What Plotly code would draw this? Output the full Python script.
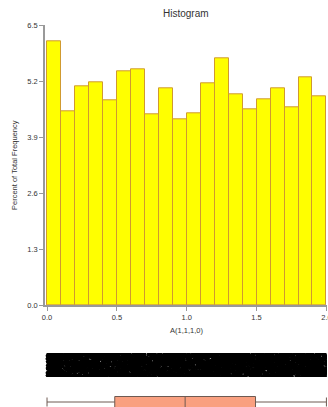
import plotly.graph_objects as go

# Histogram table: bin edges every 0.1 from 0.0 to 2.0, percent of total frequency
bin_width = 0.1
bin_starts = [round(i * bin_width, 1) for i in range(20)]
percent = [6.12, 4.50, 5.08, 5.18, 4.75, 5.43, 5.48, 4.43, 5.04, 4.32,
           4.46, 5.15, 5.73, 4.89, 4.56, 4.78, 5.04, 4.60, 5.29, 4.86]
y_ticks = [0.0, 1.3, 2.6, 3.9, 5.2, 6.5]
x_ticks = [0.0, 0.5, 1.0, 1.5, 2.0]
n_obs = 5000

# Expand the binned table into observations spread evenly through each bin
total = sum(percent)
sample = []
for lo, p in zip(bin_starts, percent):
    n = int(round(p / total * n_obs))
    sample += [lo + (k + 0.5) / n * bin_width for k in range(n)]

W, H = 328, 407
ML, MR = 45, 1
font = "Liberation Sans, Arial, sans-serif"
ink = "#333333"
axis_gray = "#999999"

fig = go.Figure()

fig.add_trace(go.Bar(
    x=[s + bin_width / 2 for s in bin_starts], y=percent, width=bin_width,
    marker=dict(color="#FFFF00", line=dict(color="#D09A30", width=1)),
    xaxis="x", yaxis="y", showlegend=False, hoverinfo="x+y",
))

# Raw observations as a jittered strip
fig.add_trace(go.Box(
    x=sample, y0=0, orientation="h", boxpoints="all", jitter=1, pointpos=0,
    width=1, fillcolor="rgba(0,0,0,0)", line=dict(width=0, color="rgba(0,0,0,0)"),
    marker=dict(color="black", size=3), xaxis="x", yaxis="y2", showlegend=False,
))

# Box plot summary of the same observations
fig.add_trace(go.Box(
    x=sample, y0=0, orientation="h", boxpoints=False, width=0.55, whiskerwidth=0.82,
    fillcolor="#F9A080", line=dict(color="#6E5A52", width=1),
    xaxis="x", yaxis="y3", showlegend=False,
))

def paper_y(px):
    return (H - px) / H

fig.update_layout(
    width=W, height=H,
    margin=dict(l=ML, r=MR, t=0, b=0, autoexpand=False),
    paper_bgcolor="white", plot_bgcolor="white",
    font=dict(family=font, size=7.5, color=ink),
    bargap=0,
    xaxis=dict(
        domain=[0, 1], range=[-2 / 140, 2.004], anchor="y", automargin=False,
        tickvals=x_ticks, tickformat=".1f", ticks="outside", ticklen=4,
        tickcolor=axis_gray, showline=True, linecolor=axis_gray, linewidth=1.5,
        showgrid=False, zeroline=False, tickfont=dict(size=7.5, color=ink),
        ticklabeloverflow="allow",
    ),
    yaxis=dict(
        domain=[paper_y(305.3), paper_y(25.3)], range=[0, 6.5], anchor="x",
        automargin=False,
        tickvals=y_ticks, tickformat=".1f", ticks="outside", ticklen=4,
        tickcolor=axis_gray, showline=True, linecolor=axis_gray, linewidth=1.5,
        showgrid=False, zeroline=False, tickfont=dict(size=7.5, color=ink),
    ),
    yaxis2=dict(domain=[paper_y(377), paper_y(353)], range=[-0.5, 0.5],
                anchor="x", visible=False),
    yaxis3=dict(domain=[0, paper_y(387)], range=[-0.25, 0.75],
                anchor="x", visible=False),
    annotations=[
        dict(text="Histogram", x=0.5, y=paper_y(14), xref="paper", yref="paper",
             showarrow=False, font=dict(size=10, color=ink), yanchor="middle"),
        dict(text="Percent of Total Frequency", x=(14 - ML) / (W - ML - MR),
             y=paper_y(165), xref="paper", yref="paper", textangle=-90,
             xanchor="center", yanchor="middle",
             showarrow=False, font=dict(size=7.5, color=ink)),
        dict(text="A(1,1,1,0)", x=0.5, y=paper_y(330), xref="paper", yref="paper",
             showarrow=False, font=dict(size=7.5, color=ink), yanchor="middle"),
    ],
)

fig.write_html("out.html")
